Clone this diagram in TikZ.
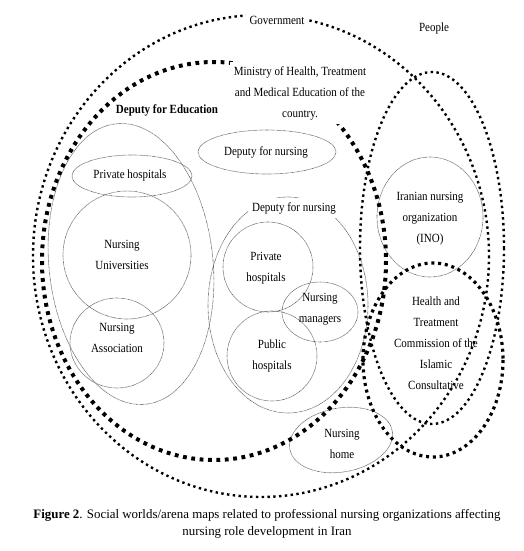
\documentclass[tikz,border=0pt]{standalone}
\usepackage{fontspec}
\setmainfont{Liberation Serif}[FakeStretch=0.88]
\newfontfamily\capfont{Liberation Serif}
\begin{document}
\begin{tikzpicture}[x=1pt,y=-1pt,
 gv/.style={line width=2.4pt,dash pattern=on 2.4pt off 3.4pt},
 mn/.style={line width=4pt,dash pattern=on 3.8pt off 4.6pt},
 ar/.style={line width=3.2pt,dash pattern=on 3pt off 3.8pt},
 th/.style={draw=black!70,line width=0.6pt,dash pattern=on 0.6pt off 0.6pt},
 lb/.style={align=center,font=\fontsize{12.5}{21}\selectfont,inner sep=0pt},
 gp/.style={lb,fill=white,inner sep=4pt}]
\useasboundingbox (0,0) rectangle (523,551);
% thin arenas
\draw[th,rotate around={6:(131,264)}] (131,264) ellipse [x radius=82,y radius=141];
\draw[th] (132,176) ellipse [x radius=60,y radius=21];
\draw[th] (127,255) circle [radius=64];
\draw[th] (117,343) ellipse [x radius=47,y radius=45];
\draw[th] (267,152) ellipse [x radius=69,y radius=22];
\draw[th] (288,305) ellipse [x radius=80,y radius=108];
\draw[th] (268,267) circle [radius=45];
\draw[th] (320,312) ellipse [x radius=38,y radius=30];
\draw[th] (272,356) circle [radius=45];
\draw[th] (430,217) ellipse [x radius=53,y radius=60];
\draw[th,rotate around={10:(341,440)}] (341,440) ellipse [x radius=52,y radius=32];
% social worlds
\draw[gv] (261,256) ellipse [x radius=228,y radius=241];
\draw[mn] (214,261) ellipse [x radius=172,y radius=199];
\draw[gv] (432,248) ellipse [x radius=72,y radius=176];
\draw[ar] (433,360) ellipse [x radius=70,y radius=97];
% labels
\node[gp] (gov) at (277,20) {Government};
\node[lb] (ppl) at (434,28) {People};
\node[gp] (min) at (300,93) {Ministry of Health, Treatment\\and Medical Education of the\\country.};
\node[lb,font=\fontsize{12.5}{21}\selectfont\bfseries] (dedu) at (167,110) {Deputy for Education};
\node[lb] (dnur) at (266,152) {Deputy for nursing};
\node[lb] (phl) at (130,175) {Private hospitals};
\node[lb] (unv) at (122,255) {Nursing\\Universities};
\node[lb] (asc) at (117,338) {Nursing\\Association};
\node[gp] (dnus) at (294,208) {Deputy for nursing};
\node[lb] (phr) at (266,268) {Private\\hospitals};
\node[lb] (mgr) at (320,309) {Nursing\\managers};
\node[lb] (pub) at (272,356) {Public\\hospitals};
\node[lb] (ino) at (430,219) {Iranian nursing\\organization\\(INO)};
\node[lb] (hlth) at (436,343) {Health and\\Treatment\\Commission of the\\Islamic\\Consultative};
\node[lb] (home) at (342,444) {Nursing\\home};
\node[lb,font=\capfont\fontsize{12.9}{17}\selectfont] (cap) at (267,524) {\textbf{Figure 2}. Social worlds/arena maps related to professional nursing organizations affecting\\nursing role development in Iran};
\end{tikzpicture}
\end{document}
